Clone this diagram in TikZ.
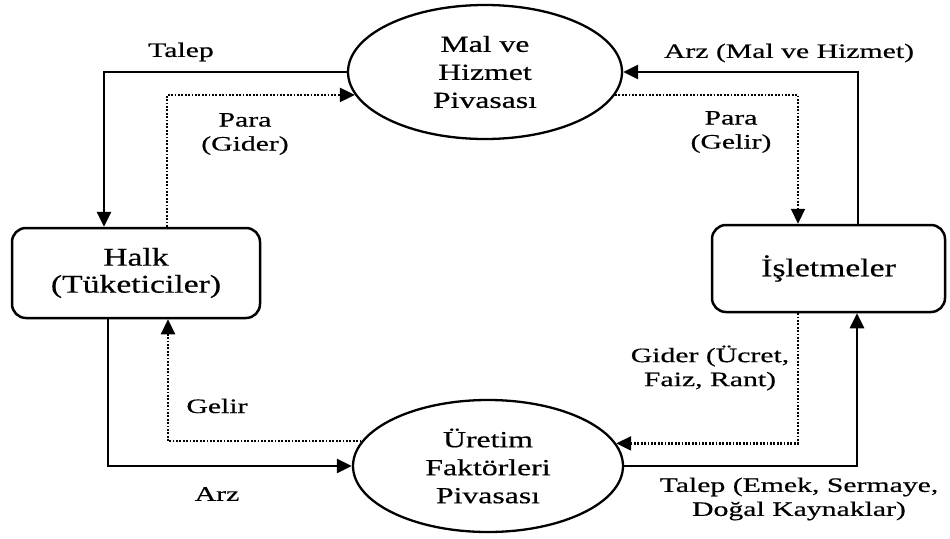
\documentclass[tikz,border=0pt]{standalone}
\usepackage{fontspec}
\setmainfont{Liberation Serif}
\newfontfamily\lblfont[FakeStretch=1.45,FakeBold=0.5]{Liberation Serif}
\newfontfamily\ellfont[FakeStretch=1.38,FakeBold=0.5]{Liberation Serif}
\newfontfamily\boxfont[FakeStretch=1.32,FakeBold=0.5]{Liberation Serif}
\usetikzlibrary{arrows.meta,shapes.geometric}
\begin{document}
\begin{tikzpicture}[x=1pt,y=-1pt,
  market/.style={draw,ellipse,line width=2.3pt,inner sep=0pt,minimum width=274pt,minimum height=134pt,align=center,font=\ellfont\fontsize{23}{28}\selectfont},
  agent/.style={draw,rounded corners=14pt,line width=2.5pt,align=center,font=\boxfont\fontsize{25.5}{27}\selectfont},
  lbl/.style={align=center,font=\lblfont\fontsize{20.5}{24}\selectfont,inner sep=0pt},
  flow/.style={line width=2.9pt,-{Triangle[length=15pt,width=14pt]}},
  money/.style={line width=2.2pt,dash pattern=on 1.8pt off 1.6pt,-{Triangle[length=15pt,width=14pt]}},
]
\fill[white] (0,0) rectangle (950,538);
\useasboundingbox (0,0) rectangle (950,538);

\node[market] (mk) at (485,72) {Mal ve\\Hizmet\\Pivasası};
\node[market,minimum width=270pt,minimum height=132pt] (uf) at (488,466) {Üretim\\Faktörleri\\Pivasası};
\node[agent,minimum width=248pt,minimum height=90pt] (halk) at (136,273) {Halk\\(Tüketiciler)};
\node[agent,minimum width=233pt,minimum height=87pt] (isl) at (828.5,268.5) {İşletmeler};

\coordinate (tl) at (104,0);
\coordinate (pl) at (167,0);
\coordinate (tr) at (858,0);
\coordinate (pr) at (798,0);
\coordinate (bl) at (108,0);
\coordinate (gl) at (168,0);
\coordinate (br) at (857,0);
\coordinate (gr) at (798,0);

\draw[flow] (mk.west) -| (halk.north -| tl);
\draw[money] (halk.north -| pl) |- (mk.190.2);
\draw[flow] (isl.north -| tr) |- (mk.east);
\draw[money] (mk.-10.2) -| (isl.north -| pr);
\draw[flow] (halk.south -| bl) |- (uf.west);
\draw[money] (uf.169.8) -| (halk.south -| gl);
\draw[flow] (uf.east) -| (isl.south -| br);
\draw[money] (isl.south -| gr) |- (uf.10.2);

\node[lbl] (lTalep) at (181,52) {Talep};
\node[lbl] (lParaG) at (245,134) {Para\\(Gider)};
\node[lbl] (lArzMH) at (789,53) {Arz (Mal ve Hizmet)};
\node[lbl] (lParaL) at (731,132) {Para\\(Gelir)};
\node[lbl] (lGider) at (710,368) {Gider (Ücret,\\Faiz, Rant)};
\node[lbl] (lGelir) at (217,406) {Gelir};
\node[lbl] (lArz) at (217,494) {Arz};
\node[lbl] (lTalepE) at (799,499) {Talep (Emek, Sermaye,\\Doğal Kaynaklar)};
\end{tikzpicture}
\end{document}
